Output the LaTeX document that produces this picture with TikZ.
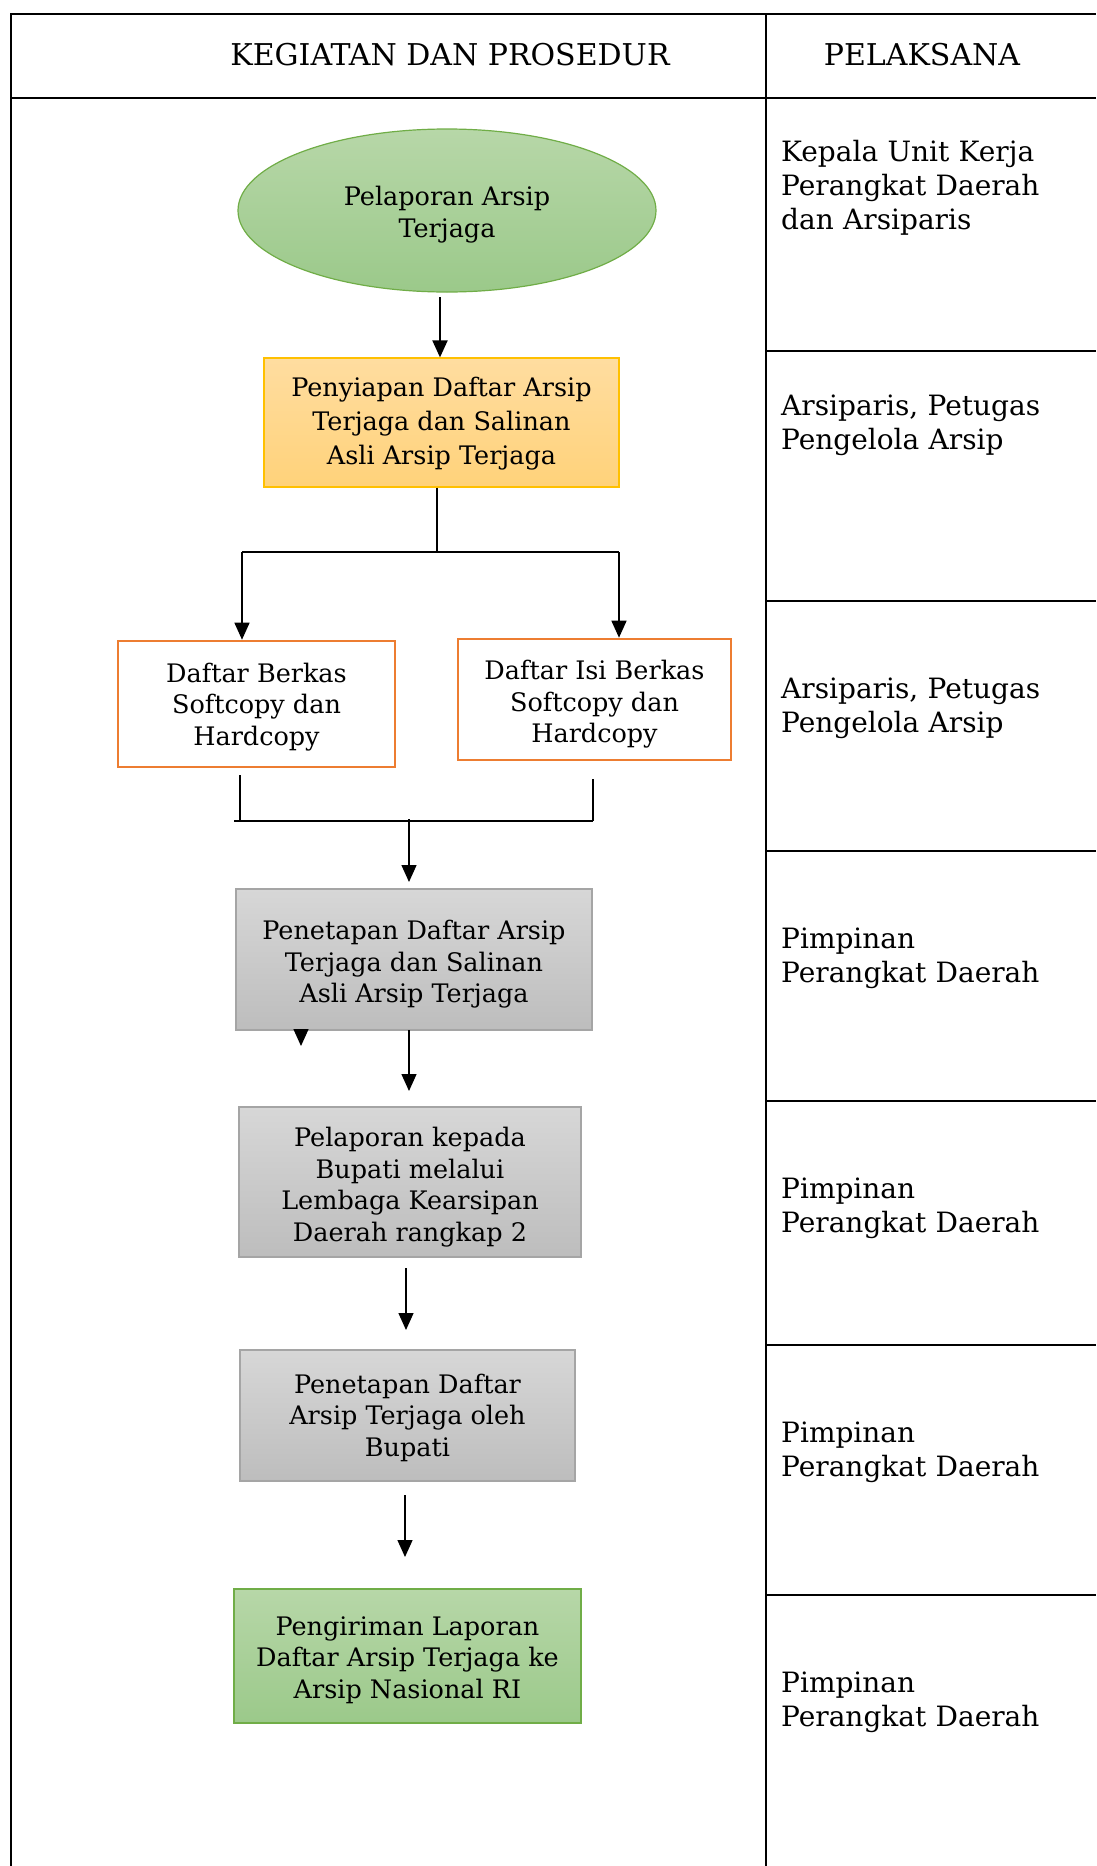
\documentclass[tikz,border=0pt]{standalone}
\usepackage{fontspec}
\setmainfont{DejaVu Serif}
\usetikzlibrary{arrows.meta,shapes.geometric}
\definecolor{gtop}{HTML}{B7D7A8}
\definecolor{gbot}{HTML}{9BC98A}
\definecolor{gline}{HTML}{70AD47}
\definecolor{ytop}{HTML}{FFDDA0}
\definecolor{ybot}{HTML}{FFD27A}
\definecolor{yline}{HTML}{FFC000}
\definecolor{oline}{HTML}{ED7D31}
\definecolor{stop}{HTML}{D7D7D7}
\definecolor{sbot}{HTML}{BDBDBD}
\definecolor{sline}{HTML}{A5A5A5}
\tikzset{
  tbl/.style={line width=1.6pt, black},
  conn/.style={line width=1.4pt, black},
  arr/.style={conn, -{Triangle[width=15pt,length=17pt]}},
  btxt/.style={align=center, inner sep=0pt, font=\fontsize{25.5}{31.5}\selectfont},
  shp/.style={inner sep=0pt},
  greenbox/.style={shp, top color=gtop, bottom color=gbot, draw=gline, line width=1.2pt},
  yellowbox/.style={shp, rectangle, top color=ytop, bottom color=ybot, draw=yline, line width=1.2pt},
  orangebox/.style={shp, rectangle, fill=white, draw=oline, line width=2.6pt},
  graybox/.style={shp, rectangle, top color=stop, bottom color=sbot, draw=sline, line width=1.2pt},
  ptxt/.style={anchor=base west, align=left, inner sep=0pt, text width=310pt, font=\fontsize{28}{34}\selectfont},
  htxt/.style={inner sep=0pt, font=\fontsize{30}{34}\selectfont}
}
\begin{document}
\begin{tikzpicture}[x=1pt, y=-1pt]
\useasboundingbox (0,0) rectangle (1096,1866);
% table
\draw[tbl] (11,1866) -- (11,14) -- (1096,14);
\draw[tbl] (11,98) -- (1096,98);
\draw[tbl] (766,14) -- (766,1866);
\foreach \yy in {351,601,851,1101,1345,1595} \draw[tbl] (766,\yy) -- (1096,\yy);
\node[htxt] (h1) at (450,55) {KEGIATAN DAN PROSEDUR};
\node[htxt] (h2) at (922,55) {PELAKSANA};
% pelaksana
\node[ptxt] (p1) at (781,161) {Kepala Unit Kerja\\Perangkat Daerah\\dan Arsiparis};
\node[ptxt] (p2) at (781,415) {Arsiparis, Petugas\\Pengelola Arsip};
\node[ptxt] (p3) at (781,698) {Arsiparis, Petugas\\Pengelola Arsip};
\node[ptxt] (p4) at (781,948) {Pimpinan\\Perangkat Daerah};
\node[ptxt] (p5) at (781,1198) {Pimpinan\\Perangkat Daerah};
\node[ptxt] (p6) at (781,1442) {Pimpinan\\Perangkat Daerah};
\node[ptxt] (p7) at (781,1692) {Pimpinan\\Perangkat Daerah};
% flow shapes
\node[greenbox, ellipse, minimum width=418pt, minimum height=163pt] (e) at (447,210.5) {};
\node[yellowbox, minimum width=355pt, minimum height=129pt] (b2) at (441.5,422.5) {};
\node[orangebox, minimum width=277pt, minimum height=126pt] (b3) at (256.5,704) {};
\node[orangebox, minimum width=273pt, minimum height=121pt] (b4) at (594.5,699.5) {};
\node[graybox, minimum width=356pt, minimum height=141pt] (b5) at (414,959.5) {};
\node[graybox, minimum width=342pt, minimum height=150pt] (b6) at (410,1182) {};
\node[graybox, minimum width=335pt, minimum height=131pt] (b7) at (407.5,1415.5) {};
\node[greenbox, rectangle, minimum width=347pt, minimum height=134pt] (b8) at (407.5,1656) {};
% flow texts
\node[btxt] (te) at ([yshift=-4pt]e.center) {Pelaporan Arsip\\Terjaga};
\node[btxt, font=\fontsize{25.5}{34}\selectfont] (t2) at ([yshift=-1pt]b2.center) {Penyiapan Daftar Arsip\\Terjaga dan Salinan\\Asli Arsip Terjaga};
\node[btxt] (t3) at ([yshift=-3pt]b3.center) {Daftar Berkas\\Softcopy dan\\Hardcopy};
\node[btxt] (t4) at ([yshift=-5pt]b4.center) {Daftar Isi Berkas\\Softcopy dan\\Hardcopy};
\node[btxt] (t5) at ([yshift=-5pt]b5.center) {Penetapan Daftar Arsip\\Terjaga dan Salinan\\Asli Arsip Terjaga};
\node[btxt] (t6) at ([yshift=-5pt]b6.center) {Pelaporan kepada\\Bupati melalui\\Lembaga Kearsipan\\Daerah rangkap 2};
\node[btxt] (t7) at ([yshift=-2pt]b7.center) {Penetapan Daftar\\Arsip Terjaga oleh\\Bupati};
\node[btxt] (t8) at ([yshift=-4pt]b8.center) {Pengiriman Laporan\\Daftar Arsip Terjaga ke\\Arsip Nasional RI};
% junction coordinates
\coordinate (a1s) at (440,297);
\coordinate (j1) at (437,552);
\coordinate (jl) at (242,552);
\coordinate (jr) at (619,552);
\coordinate (ml) at (240,775);
\coordinate (mlb) at (240,821);
\coordinate (mr) at (593,779);
\coordinate (mrb) at (593,821);
\coordinate (mle) at (234,821);
\coordinate (m1) at (409,819);
\coordinate (m2) at (409,882);
\coordinate (stray) at (301,1030);
\coordinate (a5) at (409,1030);
\coordinate (a5e) at (409,1091);
\coordinate (a6) at (406,1268);
\coordinate (a6e) at (406,1330);
\coordinate (a7) at (405,1495);
\coordinate (a7e) at (405,1557);
% connectors
\draw[arr, line width=2pt] (a1s) -- (a1s |- b2.north);
\draw[conn, line width=2pt] (j1 |- b2.south) -- (j1);
\draw[conn] (jl) -- (jr);
\draw[arr] (jl) -- (jl |- b3.north);
\draw[arr] (jr) -- (jr |- b4.north);
\draw[conn] (ml) -- (mlb);
\draw[conn] (mr) -- (mrb);
\draw[conn] (mle) -- (mrb);
\draw[arr] (m1) -- (m2);
\draw[arr] (stray) -- ++(0,16);
\draw[arr] (a5) -- (a5e);
\draw[arr] (a6) -- (a6e);
\draw[arr] (a7) -- (a7e);
\end{tikzpicture}
\end{document}
